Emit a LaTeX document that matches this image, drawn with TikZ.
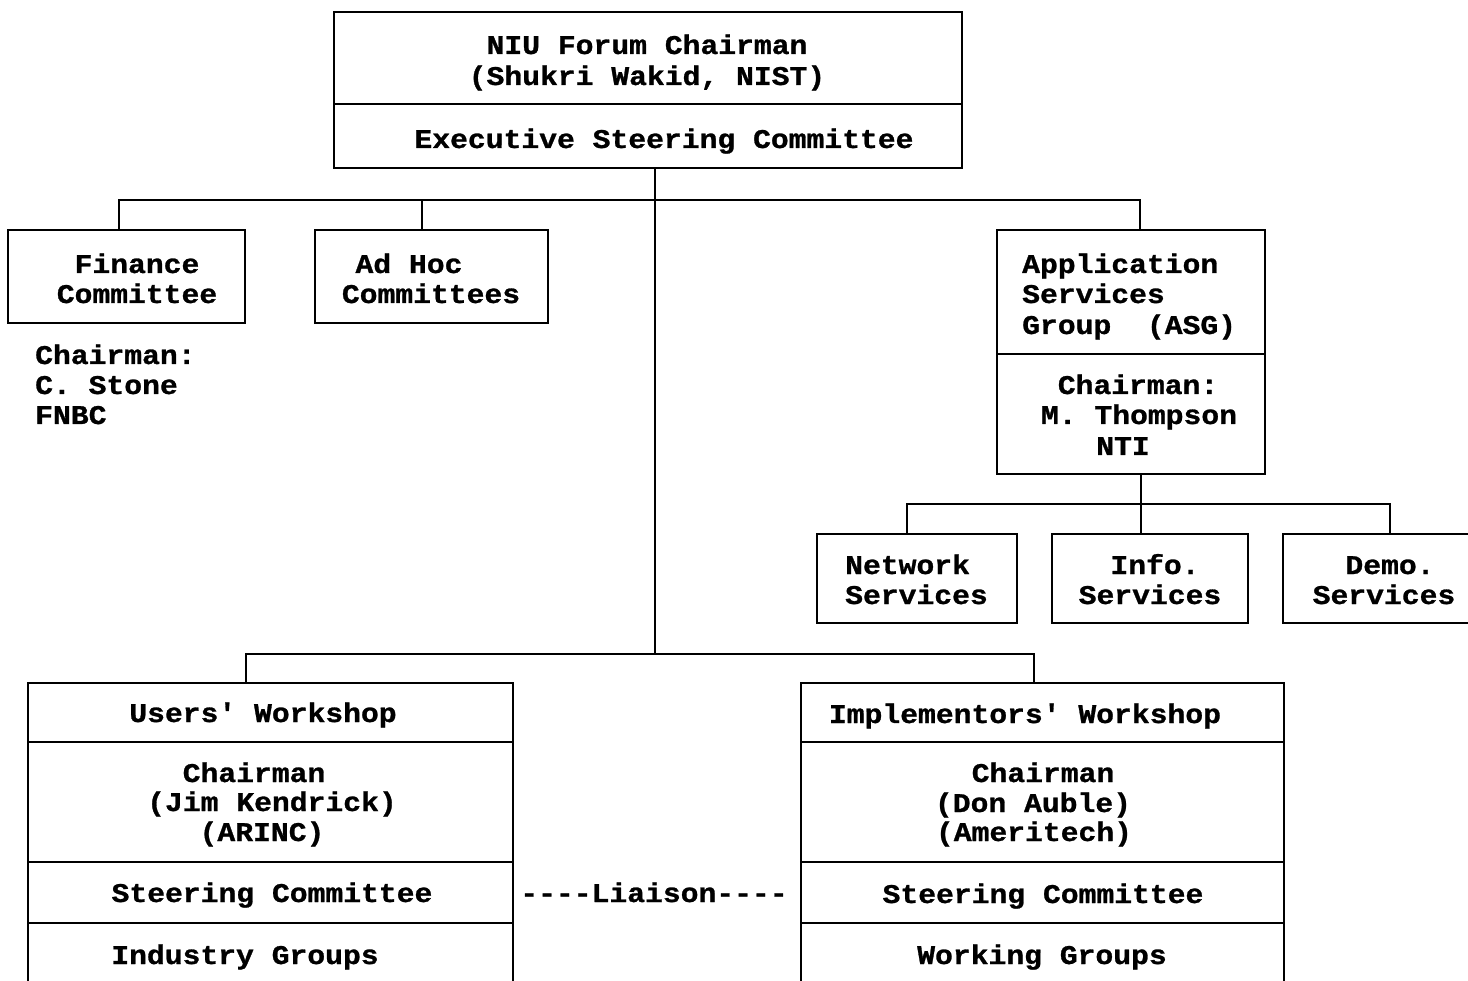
\documentclass[tikz,border=0pt]{standalone}
\usepackage{fontspec}
\setmonofont{Liberation Mono}[FakeStretch=1.1, BoldFeatures={FakeBold=1}]
\begin{document}
\begin{tikzpicture}[x=1pt,y=-1pt,
  box/.style={draw, line width=2pt, rectangle, inner sep=0pt},
  wire/.style={line width=2pt},
  lbl/.style={font=\fontsize{27}{30}\selectfont\ttfamily\bfseries, inner sep=0pt, anchor=base},
  lblw/.style={lbl, anchor=base west}]
\fill[white] (0,0) rectangle (1468,981);
\useasboundingbox (0,0) rectangle (1468,981);
\clip (0,0) rectangle (1468,981);

% ---- forum chairman
\node[box, minimum width=628pt, minimum height=92pt] (topA) at (648,58) {};
\node[box, minimum width=628pt, minimum height=64pt] (topB) at (648,136) {};
\node[lbl] (tA1) at (647,54) {NIU Forum Chairman};
\node[lbl] (tA2) at (647,85) {(Shukri Wakid, NIST)};
\node[lbl] (tB1) at (664,148) {Executive Steering Committee};

% ---- committees
\node[box, minimum width=237pt, minimum height=93pt] (fin) at (126.5,276.5) {};
\node[lbl] (fin1) at (137,273) {Finance};
\node[lbl] (fin2) at (137,303) {Committee};
\node[lblw] (fc1) at (35,364) {Chairman:};
\node[lblw] (fc2) at (35,394) {C. Stone};
\node[lblw] (fc3) at (35,424) {FNBC};

\node[box, minimum width=233pt, minimum height=93pt] (adhoc) at (431.5,276.5) {};
\node[lbl] (ah1) at (409,273) {Ad Hoc};
\node[lbl] (ah2) at (431,303) {Committees};

% ---- application services group
\node[box, minimum width=268pt, minimum height=124pt] (asgA) at (1131,292) {};
\node[box, minimum width=268pt, minimum height=120pt] (asgB) at (1131,414) {};
\node[lblw] (as1) at (1022,273) {Application};
\node[lblw] (as2) at (1022,303) {Services};
\node[lblw] (as3) at (1022,334) {Group\ \ (ASG)};
\node[lbl] (as4) at (1138,394) {Chairman:};
\node[lbl] (as5) at (1139,424) {M. Thompson};
\node[lbl] (as6) at (1123,455) {NTI};

\node[box, minimum width=200pt, minimum height=89pt] (net) at (917,578.5) {};
\node[lblw] (nt1) at (845,574) {Network};
\node[lblw] (nt2) at (845,604) {Services};
\node[box, minimum width=196pt, minimum height=89pt] (info) at (1150,578.5) {};
\node[lbl] (in1) at (1155,574) {Info.};
\node[lbl] (in2) at (1150,604) {Services};
\node[box, minimum width=207pt, minimum height=89pt] (demo) at (1386.5,578.5) {};
\node[lbl] (dm1) at (1390,574) {Demo.};
\node[lbl] (dm2) at (1384,604) {Services};

% ---- workshops
\node[box, minimum width=485pt, minimum height=59pt] (usersA) at (270.5,712.5) {};
\node[box, minimum width=485pt, minimum height=120pt] (usersB) at (270.5,802) {};
\node[box, minimum width=485pt, minimum height=61pt] (usersC) at (270.5,892.5) {};
\node[box, minimum width=485pt, minimum height=77pt] (usersD) at (270.5,961.5) {};
\node[lbl] (us1) at (263,722) {Users' Workshop};
\node[lbl] (us2) at (254,782) {Chairman};
\node[lbl] (us3) at (272,811) {(Jim Kendrick)};
\node[lbl] (us4) at (262,841) {(ARINC)};
\node[lbl] (us5) at (272,902) {Steering Committee};
\node[lbl] (us6) at (245,964) {Industry Groups};

\node[box, minimum width=483pt, minimum height=59pt] (implA) at (1042.5,712.5) {};
\node[box, minimum width=483pt, minimum height=120pt] (implB) at (1042.5,802) {};
\node[box, minimum width=483pt, minimum height=61pt] (implC) at (1042.5,892.5) {};
\node[box, minimum width=483pt, minimum height=77pt] (implD) at (1042.5,961.5) {};
\node[lbl] (im1) at (1025,723) {Implementors' Workshop};
\node[lbl] (im2) at (1043,782) {Chairman};
\node[lbl] (im3) at (1033,812) {(Don Auble)};
\node[lbl] (im4) at (1034,841) {(Ameritech)};
\node[lbl] (im5) at (1043,903) {Steering Committee};
\node[lbl] (im6) at (1042,964) {Working Groups};

\node[lbl] (liaison) at (654,902) {----Liaison----};

% ---- connectors
\coordinate (trunk) at (655,200);
\coordinate (bot) at (655,654);
\coordinate (busL) at (119,200);
\coordinate (busA) at (422,200);
\coordinate (busR) at (1140,200);
\coordinate (botL) at (246,654);
\coordinate (botR) at (1034,654);
\coordinate (sub) at (1141,504);
\coordinate (subL) at (907,504);
\coordinate (subR) at (1390,504);

\draw[wire] (topB.south -| trunk) -- (bot);
\draw[wire] (busL |- fin.north) -- (busL) -- (busR) -- (busR |- asgA.north);
\draw[wire] (busA) -- (busA |- adhoc.north);
\draw[wire] (botL |- usersA.north) -- (botL) -- (botR) -- (botR |- implA.north);
\draw[wire] (asgB.south -| sub) -- (sub);
\draw[wire] (subL |- net.north) -- (subL) -- (subR) -- (subR |- demo.north);
\draw[wire] (sub) -- (sub |- info.north);
\end{tikzpicture}
\end{document}
